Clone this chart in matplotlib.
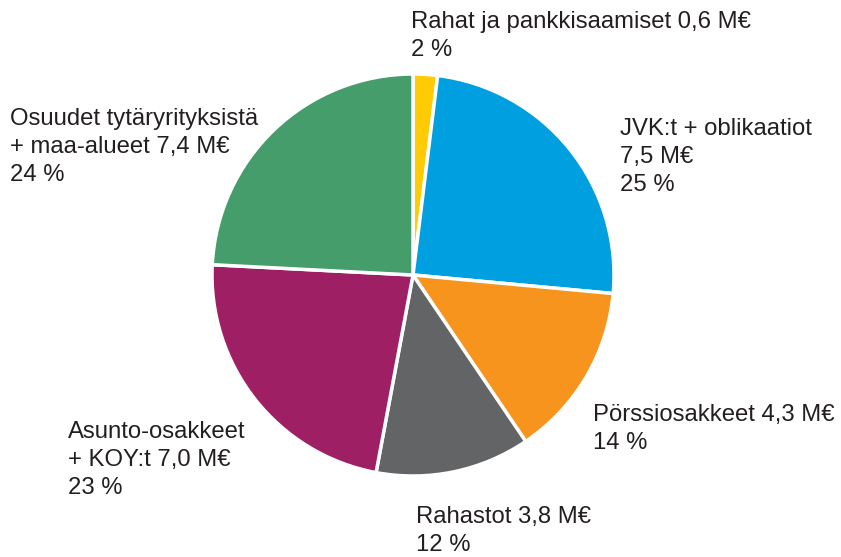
import matplotlib.pyplot as plt

plt.rcParams['font.family'] = ['Liberation Sans', 'DejaVu Sans']

categories = ['Rahat ja pankkisaamiset', 'JVK:t + oblikaatiot', 'Pörssiosakkeet',
              'Rahastot', 'Asunto-osakkeet + KOY:t', 'Osuudet tytäryrityksistä + maa-alueet']
values = [0.6, 7.5, 4.3, 3.8, 7.0, 7.4]
labels = ['Rahat ja pankkisaamiset 0,6 M€\n2 %',
          'JVK:t + oblikaatiot\n7,5 M€\n25 %',
          'Pörssiosakkeet 4,3 M€\n14 %',
          'Rahastot 3,8 M€\n12 %',
          'Asunto-osakkeet\n+ KOY:t 7,0 M€\n23 %',
          'Osuudet tytäryrityksistä\n+ maa-alueet 7,4 M€\n24 %']
colors = ['#ffcb05', '#009fdf', '#f7941d', '#636466', '#9e1f63', '#449d6b']

W, H = 841, 557
fig = plt.figure(figsize=(W / 100, H / 100), dpi=100)
cx, cy, r = 413, 275, 201
ax = fig.add_axes([(cx - r) / W, (H - cy - r) / H, 2 * r / W, 2 * r / H])
ax.pie(values, colors=colors, startangle=90, counterclock=False,
       wedgeprops=dict(edgecolor='white', linewidth=2.5))
ax.set_xlim(-1, 1)
ax.set_ylim(-1, 1)
ax.set_aspect('equal')
ax.axis('off')

# label positions in pixels (left, top)
pos = [(411, 11), (620, 118), (593, 404), (416, 506), (68, 421), (10, 108)]
for (x, y), lab in zip(pos, labels):
    fig.text(x / W, 1 - y / H, lab, fontsize=17.2, color='#231f20',
             ha='left', va='top', linespacing=1.36)

plt.savefig('out.png', dpi=100)
